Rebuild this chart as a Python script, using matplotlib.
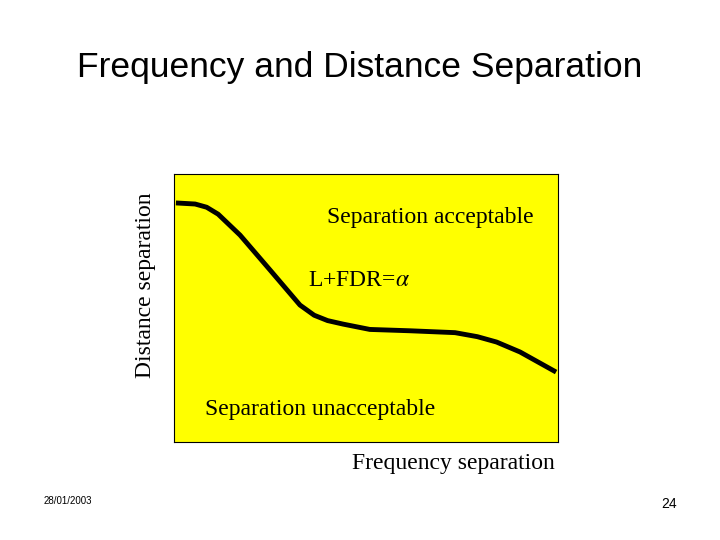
import matplotlib
matplotlib.use("Agg")
import matplotlib.pyplot as plt

plt.rcParams["mathtext.fontset"] = "stix"

# curve (0-100 axis units)
freq = [0.5, 5.5, 8.5, 11.5, 17.2, 25.0, 32.8, 36.5, 40.0, 44.0, 51.0, 61.5, 73.2, 79.0, 84.0, 90.1, 99.5]
dist = [89.2, 88.8, 87.6, 85.0, 77.2, 64.2, 51.1, 47.3, 45.3, 44.0, 42.0, 41.5, 40.8, 39.3, 37.3, 33.6, 26.1]

fig = plt.figure(figsize=(7.2, 5.4), dpi=100)
W, H = 720, 540
ax = fig.add_axes([174 / W, (H - 442) / H, 384 / W, 268 / H])
ax.set_facecolor("#ffff00")
ax.plot(freq, dist, color="black", lw=3.5, solid_capstyle="butt", solid_joinstyle="round")
ax.set_xlim(0, 100)
ax.set_ylim(0, 100)
ax.set_xticks([])
ax.set_yticks([])
for s in ax.spines.values():
    s.set_linewidth(0.8)

serif = "Liberation Serif"
sans = "Liberation Sans"
fig.text(360 / W, 1 - 68 / H, "Frequency and Distance Separation", ha="center", va="center",
         fontsize=25.5, family=sans)
fig.text(146 / W, 1 - 285 / H, "Distance separation", rotation=90, ha="center", va="center",
         fontsize=17, family=serif)
fig.text(430 / W, 1 - 217 / H, "Separation acceptable", ha="center", va="center", fontsize=17, family=serif)
fig.text(308 / W, 1 - 280 / H, r"L+FDR=$\alpha$", ha="left", va="center", fontsize=17, family=serif)
fig.text(205 / W, 1 - 409 / H, "Separation unacceptable", ha="left", va="center", fontsize=17, family=serif)
fig.text(555 / W, 1 - 463 / H, "Frequency separation", ha="right", va="center", fontsize=17, family=serif)
fig.text(44 / W, 1 - 501 / H, "28/01/2003", ha="left", va="center", fontsize=7, family=sans)
fig.text(677 / W, 1 - 504 / H, "24", ha="right", va="center", fontsize=10, family=sans)

fig.savefig("out.png", dpi=100)
